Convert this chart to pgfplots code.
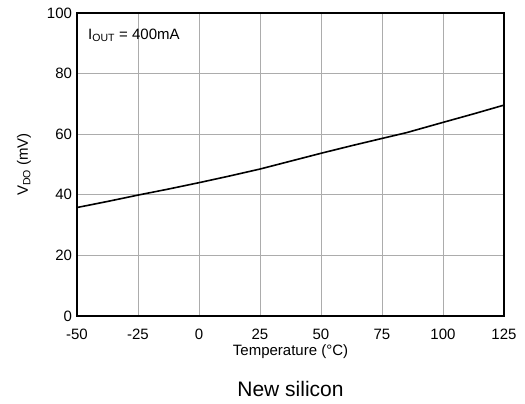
\documentclass[border=0pt]{standalone}
\usepackage{pgfplots}
\pgfplotsset{compat=1.18}
\usepackage{fontspec}
\setmainfont{Liberation Sans}
\begin{document}
\begin{tikzpicture}
\path[use as bounding box] (-77pt,-88pt) rectangle (448pt,316pt);
\begin{axis}[
  at={(0,0)}, anchor=south west,
  scale only axis, width=427pt, height=303pt,
  xmin=-50, xmax=125, ymin=0, ymax=100,
  xtick={-50,-25,0,25,50,75,100,125},
  xticklabels={-50,-25,0,25,50,75,100,125},
  ytick={0,20,40,60,80,100},
  yticklabels={0,20,40,60,80,100},
  major tick length=0pt,
  grid=major,
  major grid style={gray!65, line width=0.6pt},
  axis line style={line width=2pt},
  tick label style={font=\fontsize{15}{17}\selectfont},
  xticklabel style={anchor=base, yshift=-24pt},
  yticklabel style={xshift=-1.5pt},
  xlabel={Temperature (°C)},
  ylabel={V\textsubscript{DO} (mV)},
  label style={font=\fontsize{15}{17}\selectfont},
  xlabel style={at={(axis description cs:0.5,-0.119)}, anchor=center},
  ylabel style={at={(axis description cs:-0.124,0.5)}, anchor=center},
  clip=false,
]
\addplot[black, line width=1.6pt] coordinates {
(-50,35.8) (-37.5,37.8) (-25,39.9) (-12.5,41.9) (0,44.0) (12.5,46.2) (25,48.5)
(37.5,51.1) (50,53.7) (62.5,56.2) (75,58.6) (85,60.5) (100,63.9) (112.5,66.7) (125,69.6)
};
\node[anchor=west, inner sep=0pt, font=\fontsize{15}{17}\selectfont] at (axis cs:-45.5,92.7) {I\textsubscript{OUT} = 400mA};
\node[font=\fontsize{21}{24}\selectfont] at (axis cs:37.5,-24) {New silicon};
\end{axis}
\end{tikzpicture}
\end{document}
